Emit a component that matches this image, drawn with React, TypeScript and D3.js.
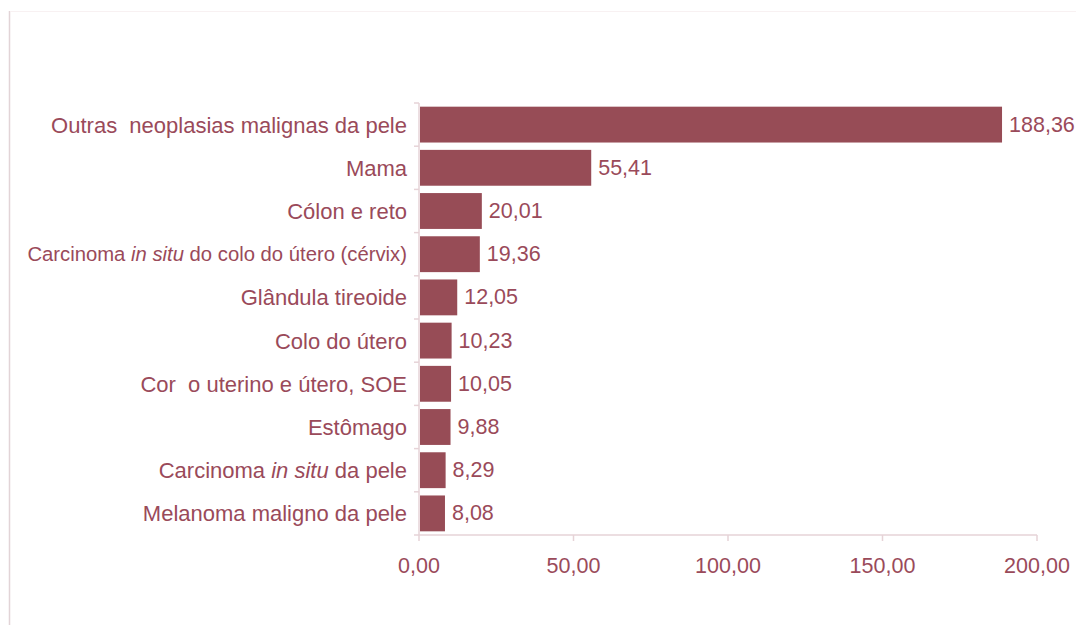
import React, { useLayoutEffect, useRef } from "react";
import * as d3 from "d3";

const categories = [
  "Outras  neoplasias malignas da pele",
  "Mama",
  "Cólon e reto",
  "Carcinoma |in situ| do colo do útero (cérvix)",
  "Glândula tireoide",
  "Colo do útero",
  "Cor  o uterino e útero, SOE",
  "Estômago",
  "Carcinoma |in situ| da pele",
  "Melanoma maligno da pele",
];
const values = [188.36, 55.41, 20.01, 19.36, 12.05, 10.23, 10.05, 9.88, 8.29, 8.08];
const xTicks = [0, 50, 100, 150, 200];

const W = 1084;
const H = 625;
const TEXT = "#9a4a5a";
const BAR = "#974c56";
const AXIS = "#e6d3d7";
const FONT = "'Liberation Sans', Arial, sans-serif";
const MAX_LABEL = 380;
const LABEL_SIZE = 22;

const fmt = (v: number) => v.toFixed(2).replace(".", ",");

function Label({ text, x, y }: { text: string; x: number; y: number }) {
  const ref = useRef<SVGTextElement>(null);
  useLayoutEffect(() => {
    const el = ref.current;
    if (!el) return;
    const len = el.getComputedTextLength();
    if (len > MAX_LABEL) {
      el.setAttribute("font-size", String((LABEL_SIZE * MAX_LABEL) / len));
    }
  }, []);
  const parts = text.split("|");
  return (
    <text ref={ref} x={x} y={y} textAnchor="end" dominantBaseline="central" fill={TEXT} fontSize={LABEL_SIZE} fontFamily={FONT} style={{ whiteSpace: "pre" }}>
      {parts.map((p, i) => (
        <tspan key={i} fontStyle={i % 2 === 1 ? "italic" : "normal"}>{p}</tspan>
      ))}
    </text>
  );
}

export default function App() {
  const x = d3.scaleLinear().domain([0, 200]).range([419, 1037]);
  const y = d3.scaleBand<string>().domain(categories).range([103, 535]).paddingInner(0.17).paddingOuter(0.085);
  const step = y.step();
  const bounds = d3.range(categories.length + 1).map((i) => 103 + i * step);
  return (
    <svg width={W} height={H} style={{ position: "absolute", left: 0, top: 0 }}>
      <rect x={0} y={0} width={W} height={H} fill="#fff" />
      <line x1={9.5} y1={11} x2={9.5} y2={H} stroke="#e2d4d7" strokeWidth={1.5} />
      <line x1={10} y1={11.5} x2={1076} y2={11.5} stroke="#f8f1f2" strokeWidth={1} />
      {/* y axis */}
      <line x1={x(0)} y1={103} x2={x(0)} y2={535} stroke={AXIS} strokeWidth={1.5} />
      {bounds.map((b, i) => (
        <line key={i} x1={x(0) - 5} y1={b} x2={x(0)} y2={b} stroke={AXIS} strokeWidth={1.5} />
      ))}
      {/* x axis */}
      <line x1={x(0)} y1={535} x2={x(200)} y2={535} stroke={AXIS} strokeWidth={1.5} />
      {xTicks.map((t) => (
        <g key={t}>
          <line x1={x(t)} y1={535} x2={x(t)} y2={541} stroke={AXIS} strokeWidth={1.5} />
          <text x={x(t)} y={566} textAnchor="middle" dominantBaseline="central" fill={TEXT} fontSize={21.5} fontFamily={FONT}>
            {fmt(t)}
          </text>
        </g>
      ))}
      {categories.map((c, i) => {
        const yy = y(c)!;
        const cy = yy + y.bandwidth() / 2;
        return (
          <g key={c}>
            <rect x={x(0) + 1} y={yy} width={x(values[i]) - x(0)} height={y.bandwidth()} fill={BAR} />
            <Label text={c} x={407} y={cy} />
            <text x={x(values[i]) + 8} y={cy} dominantBaseline="central" fill={TEXT} fontSize={21.5} fontFamily={FONT}>
              {fmt(values[i])}
            </text>
          </g>
        );
      })}
    </svg>
  );
}
